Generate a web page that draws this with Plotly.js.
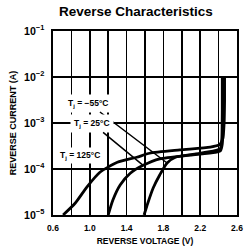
<!DOCTYPE html>
<html><head><meta charset="utf-8">
<script src="https://cdn.plot.ly/plotly-3.0.1.min.js"></script>
<style>html,body{margin:0;padding:0;background:#fff}</style>
</head><body><div id="chart" style="width:245px;height:252px"></div>
<script>
const vTickStart = 0.6, vTickStep = 0.4, vGridStep = 0.2;
const seriesNames = ['T<sub>j</sub> = 125°C','T<sub>j</sub> = 25°C','T<sub>j</sub> = −55°C'];

const v125 = [0.71,0.84,0.97,1.11,1.30,1.51,1.65,1.98,2.31,2.41,2.445,2.46,2.465,2.465];
const i125 = [1.0e-5,1.8e-5,4.1e-5,8.5e-5,1.4e-4,1.8e-4,2.2e-4,2.6e-4,3.0e-4,3.4e-4,4.5e-4,1e-3,3e-3,1e-2];

const v25 = [1.20,1.25,1.33,1.44,1.58,1.76,2.09,2.36,2.42,2.44,2.45,2.455,2.455];
const i25 = [1.0e-5,2.1e-5,4.5e-5,8.1e-5,1.2e-4,1.66e-4,2.0e-4,2.3e-4,2.5e-4,3.5e-4,1e-3,3e-3,1e-2];

const vm55 = [1.59,1.63,1.69,1.76,1.84,1.93,2.14,2.36,2.42,2.435,2.44,2.44];
const im55 = [1.0e-5,1.8e-5,3.9e-5,7.4e-5,1.35e-4,1.8e-4,2.1e-4,2.5e-4,2.8e-4,4.5e-4,2e-3,1e-2];

const font = 'Liberation Sans, Arial, sans-serif';
const mk = (x,y,n)=>({x:x,y:y,name:n,type:'scatter',mode:'lines',
  line:{color:'#000',width:2.8,shape:'spline',smoothing:0.6},hoverinfo:'skip'});
const data = [mk(v125,i125,seriesNames[0]), mk(v25,i25,seriesNames[1]), mk(vm55,im55,seriesNames[2])];

const lab = {size:8.5,color:'#000',family:font,weight:'bold'};
const layout = {
  width:245,height:252,
  margin:{l:53,r:8,t:31,b:37},
  paper_bgcolor:'#fff',plot_bgcolor:'#fff',
  showlegend:false,
  title:{text:'Reverse Characteristics',x:0.555,xanchor:'center',y:0.955,yanchor:'middle',
    font:{family:font,size:13.5,weight:'bold',color:'#000'}},
  xaxis:{range:[0.6,2.6],tickmode:'linear',tick0:vTickStart,dtick:vTickStep,tickformat:'.1f',
    minor:{tickmode:'linear',tick0:vTickStart,dtick:vGridStep,showgrid:true,gridcolor:'#000',gridwidth:1.6,ticks:''},
    showgrid:true,gridcolor:'#000',gridwidth:1.6,zeroline:false,
    showline:true,mirror:true,linecolor:'#000',linewidth:2,ticks:'',
    ticklabelstandoff:4,
    tickfont:{family:font,size:8.5,color:'#000',weight:'bold'},
    title:{text:'REVERSE VOLTAGE (V)',standoff:6,font:{family:font,size:8.5,color:'#000',weight:'bold'}}},
  yaxis:{type:'log',range:[-5,-1],dtick:1,exponentformat:'power',
    showgrid:true,gridcolor:'#000',gridwidth:1.6,zeroline:false,
    showline:true,mirror:true,linecolor:'#000',linewidth:2,ticks:'',
    ticklabelstandoff:5,
    tickfont:{family:font,size:8.5,color:'#000',weight:'bold'},
    title:{text:'REVERSE CURRENT (A)',standoff:6,font:{family:font,size:9,color:'#000',weight:'bold'}}},
  annotations:[
    {x:vm55[4],y:Math.log10(im55[4]),xref:'x',yref:'y',text:seriesNames[2],showarrow:true,
     arrowhead:0,arrowwidth:1.5,arrowcolor:'#000',ax:-79,ay:-60,bgcolor:'#fff',borderpad:3,font:lab},
    {x:v25[4],y:Math.log10(i25[4]),xref:'x',yref:'y',text:seriesNames[1],showarrow:true,
     arrowhead:0,arrowwidth:1.5,arrowcolor:'#000',ax:-51,ay:-42,bgcolor:'#fff',borderpad:3,font:lab},
    {x:0.895,y:Math.log10(2.0e-4),xref:'x',yref:'y',text:seriesNames[0],showarrow:false,
     bgcolor:'#fff',borderpad:2,font:lab}
  ]
};
Plotly.newPlot('chart',data,layout,{staticPlot:true,displayModeBar:false});
</script></body></html>
